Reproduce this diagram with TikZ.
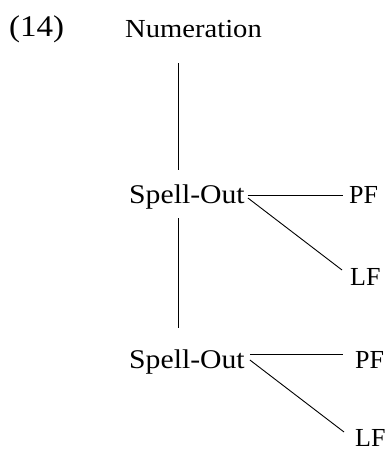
\documentclass[tikz,border=0pt]{standalone}
\usepackage{fontspec}
\setmainfont[FakeStretch=1.1]{Liberation Serif}
\newfontfamily\plainserif{Liberation Serif}
\usetikzlibrary{calc}
\begin{document}
\begin{tikzpicture}[x=1pt,y=-1pt,
  lbl/.style={inner sep=0pt,anchor=base west,font=\fontsize{27}{32}\selectfont},
  side/.style={lbl,font=\plainserif\fontsize{26}{32}\selectfont},
  conn/.style={line width=0.9pt}]
\useasboundingbox (0,0) rectangle (388,451);
\node[lbl,font=\fontsize{30}{36}\selectfont] (ex) at (9,36) {(14)};
\node[lbl,font=\fontsize{26}{30}\selectfont] (num) at (125,37) {Numeration};
\node[lbl] (so1) at (129,203) {Spell-Out};
\node[side] (pf1) at (349,203) {PF};
\node[side] (lf1) at (350,285) {LF};
\node[lbl] (so2) at (129,368) {Spell-Out};
\node[side] (pf2) at (355,368) {PF};
\node[side] (lf2) at (355,446) {LF};
\coordinate (vx) at (178,0);
% vertical connectors
\draw[conn] ($(num.south -| vx)+(0,26)$) -- ($(so1.base -| vx)+(0,-33)$);
\draw[conn] ($(so1.base -| vx)+(0,15)$) -- ($(so2.base -| vx)+(0,-40)$);
% branches
\draw[conn] ($(so1.base east)+(3,-8)$) -- ($(pf1.base west)+(-6,-8)$);
\draw[conn] ($(so1.base east)+(3,-5)$) -- ($(lf1.base west)+(-8,-15)$);
\draw[conn] ($(so2.base east)+(5,-14)$) -- ($(pf2.base west)+(-12,-14)$);
\draw[conn] ($(so2.base east)+(5,-8)$) -- ($(lf2.base west)+(-11,-14)$);
\end{tikzpicture}
\end{document}
